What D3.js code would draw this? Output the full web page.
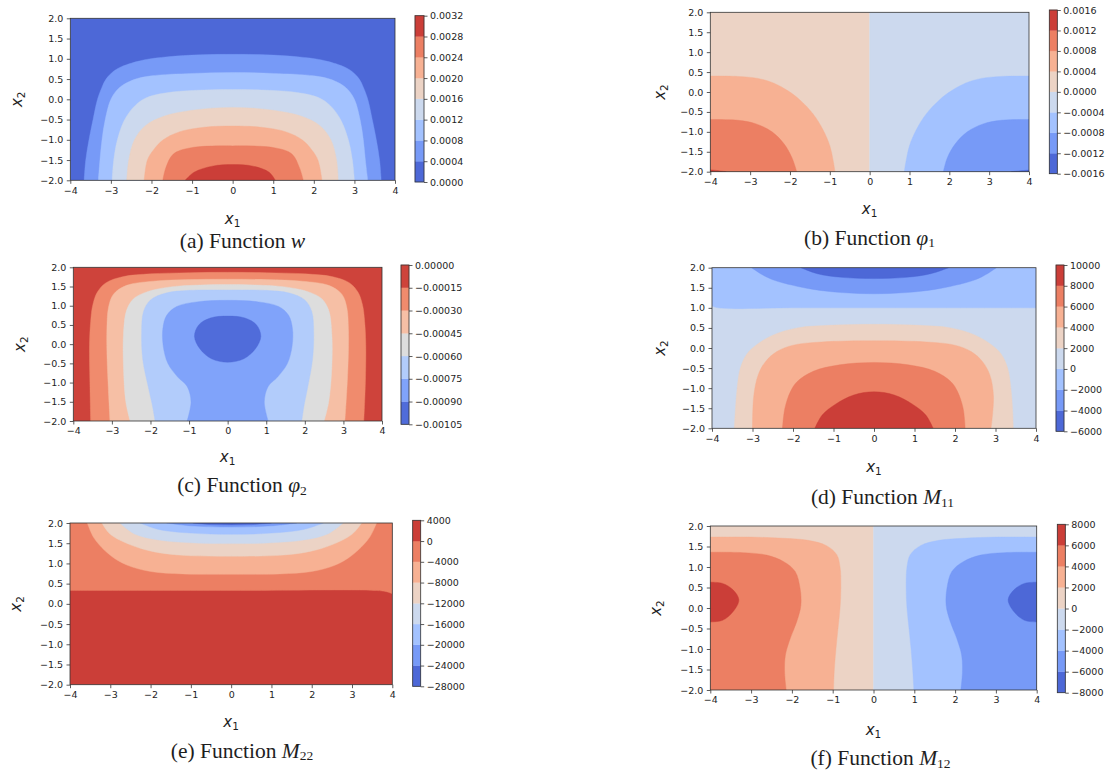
<!DOCTYPE html>
<html>
<head>
<meta charset="utf-8">
<script src="https://cdn.jsdelivr.net/npm/d3@7"></script>
<style>
  body { margin: 0; background: #fff; }
  svg text { fill: #1e1e1e; }
</style>
</head>
<body>
<div id="chart"></div>
<script>
// ---- values ----
// every field is drawn on x1 in [-4,4], x2 in [-2,2]
var xTicks = [-4, -3, -2, -1, 0, 1, 2, 3, 4];
var yTicks = [-2, -1.5, -1, -0.5, 0, 0.5, 1, 1.5, 2];

// contour levels (= colorbar tick labels) of each panel
var wLevels = [0, 0.0004, 0.0008, 0.0012, 0.0016, 0.0020, 0.0024, 0.0028, 0.0032];
var phi1Levels = [-0.0016, -0.0012, -0.0008, -0.0004, 0, 0.0004, 0.0008, 0.0012, 0.0016];
var phi2Levels = [-0.00105, -0.00090, -0.00075, -0.00060, -0.00045, -0.00030, -0.00015, 0];
var m11Levels = [-6000, -4000, -2000, 0, 2000, 4000, 6000, 8000, 10000];
var m22Levels = [-28000, -24000, -20000, -16000, -12000, -8000, -4000, 0, 4000];
var m12Levels = [-8000, -6000, -4000, -2000, 0, 2000, 4000, 6000, 8000];

// filled regions, painted in order: band index + boundary (x1, x2).
// an open boundary is closed through the listed plot corners, a loop is a closed curve.
var wShapes = [
  {band: 0, pts: [[-4, 2], [4, 2]], close: [[4, -2], [-4, -2]]},
  {band: 1, pts: [[-3.66, -2], [-3.62, -1.5], [-3.54, -1], [-3.44, -0.5], [-3.33, 0], [-3.22, 0.3], [-3.12, 0.5], [-2.95, 0.68], [-2.73, 0.81], [-2.2, 0.97], [-1.6, 1.05], [-0.8, 1.1], [0, 1.11], [0.8, 1.1], [1.6, 1.05], [2.2, 0.97], [2.73, 0.81], [2.95, 0.68], [3.12, 0.5], [3.22, 0.3], [3.33, 0], [3.44, -0.5], [3.54, -1], [3.62, -1.5], [3.66, -2]]},
  {band: 2, pts: [[-3.31, -2], [-3.27, -1.5], [-3.22, -1], [-3.14, -0.5], [-3.0, 0], [-2.8, 0.28], [-2.45, 0.48], [-2.0, 0.58], [-1.0, 0.64], [0, 0.66], [1.0, 0.64], [2.0, 0.58], [2.45, 0.48], [2.8, 0.28], [3.0, 0], [3.14, -0.5], [3.22, -1], [3.27, -1.5], [3.33, -2]]},
  {band: 3, pts: [[-2.97, -2], [-2.93, -1.5], [-2.84, -1], [-2.66, -0.5], [-2.4, -0.15], [-2.1, 0.05], [-1.5, 0.18], [-0.7, 0.23], [0, 0.24], [0.7, 0.23], [1.5, 0.18], [2.1, 0.05], [2.4, -0.15], [2.66, -0.5], [2.85, -1], [2.95, -1.5], [3.0, -2]]},
  {band: 4, pts: [[-2.61, -2], [-2.56, -1.5], [-2.42, -1], [-2.15, -0.65], [-1.7, -0.42], [-1.0, -0.27], [0, -0.2], [1.0, -0.27], [1.7, -0.42], [2.15, -0.65], [2.42, -1], [2.56, -1.5], [2.6, -2]]},
  {band: 5, pts: [[-2.18, -2], [-2.1, -1.5], [-1.95, -1.25], [-1.71, -1], [-1.3, -0.8], [-0.7, -0.69], [0, -0.66], [0.7, -0.69], [1.3, -0.8], [1.71, -1], [1.95, -1.25], [2.1, -1.5], [2.2, -2]]},
  {band: 6, pts: [[-1.72, -2], [-1.65, -1.7], [-1.46, -1.35], [-1.05, -1.2], [0, -1.15], [1.05, -1.2], [1.46, -1.35], [1.65, -1.7], [1.74, -2]]},
  {band: 7, pts: [[-1.17, -2], [-0.95, -1.8], [-0.5, -1.65], [0, -1.61], [0.5, -1.65], [0.9, -1.8], [1.05, -2]]}
];

var phi1Shapes = [
  {band: 4, pts: [[-4, 2], [0, 2]], close: [[0, -2], [-4, -2]]},
  {band: 3, pts: [[0, 2], [4, 2]], close: [[4, -2], [0, -2]]},
  {band: 5, pts: [[-4, 0.4], [-3.3, 0.39], [-2.8, 0.34], [-2.4, 0.22], [-2.05, 0.03], [-1.75, -0.2], [-1.42, -0.55], [-1.17, -0.95], [-1.0, -1.35], [-0.92, -1.7], [-0.87, -2]], close: [[-4, -2]]},
  {band: 6, pts: [[-4, -0.69], [-3.3, -0.71], [-2.85, -0.8], [-2.45, -1.0], [-2.15, -1.3], [-1.95, -1.65], [-1.83, -2]], close: [[-4, -2]]},
  {band: 7, pts: [[-4, -1.95], [-3.75, -1.98], [-3.6, -2]], close: [[-4, -2]]},
  {band: 2, pts: [[4, 0.4], [3.3, 0.39], [2.8, 0.34], [2.4, 0.22], [2.05, 0.03], [1.75, -0.2], [1.42, -0.55], [1.17, -0.95], [1.0, -1.35], [0.92, -1.7], [0.87, -2]], close: [[4, -2]]},
  {band: 1, pts: [[4, -0.69], [3.3, -0.71], [2.85, -0.8], [2.45, -1.0], [2.15, -1.3], [1.95, -1.65], [1.85, -2]], close: [[4, -2]]},
  {band: 0, pts: [[4, -1.96], [3.75, -1.98], [3.55, -2]], close: [[4, -2]]}
];

var phi2Shapes = [
  {band: 6, pts: [[-4, 2], [4, 2]], close: [[4, -2], [-4, -2]]},
  {band: 5, pts: [[-3.55, -2], [-3.57, -1], [-3.58, 0], [-3.55, 0.6], [-3.5, 1.0], [-3.38, 1.35], [-3.15, 1.6], [-2.7, 1.76], [-2.0, 1.83], [-1.0, 1.86], [0, 1.87], [1.0, 1.86], [2.0, 1.83], [2.7, 1.76], [3.15, 1.6], [3.38, 1.35], [3.5, 1.0], [3.55, 0.6], [3.58, 0], [3.57, -1], [3.53, -2]]},
  {band: 4, pts: [[-3.05, -2], [-3.1, -1], [-3.13, -0.2], [-3.13, 0.4], [-3.09, 0.95], [-2.96, 1.3], [-2.62, 1.53], [-1.93, 1.64], [-1.0, 1.68], [0, 1.69], [1.0, 1.68], [1.93, 1.64], [2.62, 1.53], [2.96, 1.3], [3.09, 0.95], [3.13, 0.4], [3.13, -0.2], [3.1, -1], [3.04, -2]]},
  {band: 3, pts: [[-2.53, -2], [-2.64, -1.5], [-2.7, -0.6], [-2.7, 0.27], [-2.62, 0.88], [-2.44, 1.18], [-2.1, 1.36], [-1.49, 1.49], [-0.7, 1.54], [0, 1.55], [0.7, 1.54], [1.49, 1.49], [2.1, 1.36], [2.44, 1.18], [2.62, 0.88], [2.7, 0.27], [2.7, -0.6], [2.62, -1.5], [2.5, -2]]},
  {band: 2, pts: [[-1.88, -2], [-1.95, -1.6], [-2.05, -1.15], [-2.2, -0.4], [-2.23, 0.3], [-2.18, 0.85], [-2.0, 1.15], [-1.6, 1.33], [-1.0, 1.4], [0, 1.41], [1.0, 1.4], [1.6, 1.33], [2.0, 1.15], [2.18, 0.85], [2.23, 0.3], [2.2, -0.4], [2.07, -1.15], [1.98, -1.6], [1.92, -2]]},
  {band: 1, pts: [[-1.05, -2], [-0.95, -1.5], [-1.05, -1.1], [-1.3, -0.85], [-1.55, -0.5], [-1.67, -0.05], [-1.68, 0.4], [-1.58, 0.75], [-1.32, 0.98], [-0.8, 1.1], [0, 1.14], [0.8, 1.1], [1.32, 0.98], [1.58, 0.75], [1.68, 0.4], [1.67, -0.05], [1.55, -0.5], [1.3, -0.85], [1.05, -1.1], [0.95, -1.5], [1.05, -2]]},
  {band: 0, loop: true, pts: [[-0.86, 0.2], [-0.75, 0.5], [-0.45, 0.68], [0, 0.73], [0.45, 0.68], [0.75, 0.5], [0.86, 0.2], [0.72, -0.12], [0.42, -0.38], [0, -0.47], [-0.42, -0.38], [-0.72, -0.12]]}
];

var m11Shapes = [
  {band: 3, pts: [[-4, 2], [4, 2]], close: [[4, -2], [-4, -2]]},
  {band: 2, pts: [[-4, 1.05], [-3.85, 1.0], [-2, 1.0], [2, 1.0], [3.9, 1.0], [4, 1.0]], close: [[4, 2], [-4, 2]]},
  {band: 1, pts: [[-3.02, 2], [-2.8, 1.85], [-2.5, 1.7], [-2.0, 1.56], [-1.5, 1.46], [-0.8, 1.38], [0, 1.35], [0.8, 1.38], [1.5, 1.46], [2.0, 1.56], [2.5, 1.7], [2.8, 1.85], [3.02, 2]]},
  {band: 0, pts: [[-1.8, 2], [-1.4, 1.85], [-0.8, 1.76], [0, 1.73], [0.8, 1.76], [1.4, 1.85], [1.84, 2]]},
  {band: 4, pts: [[-3.45, -2], [-3.42, -1.5], [-3.38, -1], [-3.3, -0.5], [-3.14, -0.15], [-2.9, 0.08], [-2.5, 0.32], [-1.9, 0.5], [-1.0, 0.57], [0, 0.59], [1.0, 0.57], [1.9, 0.5], [2.5, 0.32], [2.9, 0.08], [3.14, -0.15], [3.3, -0.5], [3.38, -1], [3.42, -1.5], [3.44, -2]]},
  {band: 5, pts: [[-3.0, -2], [-2.97, -1.2], [-2.86, -0.67], [-2.68, -0.34], [-2.4, -0.09], [-2.0, 0.07], [-1.3, 0.15], [0, 0.18], [1.3, 0.15], [2.0, 0.07], [2.4, -0.09], [2.68, -0.34], [2.86, -0.67], [2.95, -1.2], [2.89, -2]]},
  {band: 6, pts: [[-2.26, -2], [-2.2, -1.5], [-2.06, -1.08], [-1.9, -0.84], [-1.5, -0.58], [-0.85, -0.42], [0, -0.36], [0.85, -0.42], [1.5, -0.58], [1.9, -0.84], [2.06, -1.08], [2.2, -1.5], [2.25, -2]]},
  {band: 7, pts: [[-1.46, -2], [-1.28, -1.67], [-0.95, -1.4], [-0.5, -1.17], [0, -1.09], [0.5, -1.17], [0.95, -1.4], [1.28, -1.67], [1.46, -2]]}
];

var m22Shapes = [
  {band: 7, pts: [[-4, 2], [4, 2]], close: [[4, -2], [-4, -2]]},
  {band: 6, pts: [[-4, 0.33], [0, 0.33], [3.6, 0.33], [3.85, 0.3], [4, 0.25]], close: [[4, 2], [-4, 2]]},
  {band: 5, pts: [[-3.57, 2], [-3.4, 1.62], [-3.0, 1.2], [-2.59, 0.96], [-2.0, 0.8], [-1.2, 0.74], [0, 0.73], [1.2, 0.74], [2.0, 0.8], [2.59, 0.96], [3.0, 1.2], [3.42, 1.62], [3.61, 2]]},
  {band: 4, pts: [[-3.21, 2], [-3.0, 1.72], [-2.5, 1.46], [-1.93, 1.29], [-1.2, 1.2], [0, 1.18], [1.2, 1.2], [1.93, 1.29], [2.5, 1.46], [3.0, 1.72], [3.24, 2]]},
  {band: 3, pts: [[-2.76, 2], [-2.4, 1.73], [-1.8, 1.58], [-1.0, 1.51], [0, 1.49], [1.0, 1.51], [1.8, 1.58], [2.4, 1.73], [2.78, 2]]},
  {band: 2, pts: [[-2.26, 2], [-1.8, 1.84], [-1.0, 1.75], [0, 1.72], [1.0, 1.75], [1.8, 1.84], [2.29, 2]]},
  {band: 1, pts: [[-1.6, 2], [-1.0, 1.93], [0, 1.9], [1.0, 1.93], [1.63, 2]]},
  {band: 0, pts: [[-0.95, 2], [-0.5, 1.96], [0, 1.95], [0.5, 1.96], [1.0, 2]]}
];

var m12Shapes = [
  {band: 4, pts: [[-4, 2], [0, 2]], close: [[0, -2], [-4, -2]]},
  {band: 3, pts: [[0, 2], [4, 2]], close: [[4, -2], [0, -2]]},
  {band: 5, pts: [[-4, 1.73], [-3, 1.73], [-2.2, 1.7], [-1.6, 1.65], [-1.15, 1.52], [-0.9, 1.3], [-0.82, 1.0], [-0.8, 0.5], [-0.82, 0], [-0.87, -0.5], [-0.92, -1.0], [-0.96, -1.5], [-0.98, -2]], close: [[-4, -2]]},
  {band: 6, pts: [[-4, 1.36], [-3.2, 1.35], [-2.62, 1.29], [-2.2, 1.13], [-1.92, 0.89], [-1.8, 0.48], [-1.78, 0.07], [-1.88, -0.33], [-2.04, -0.74], [-2.16, -1.15], [-2.18, -1.55], [-2.14, -2]], close: [[-4, -2]]},
  {band: 7, pts: [[-4, 0.63], [-3.7, 0.6], [-3.45, 0.45], [-3.3, 0.2], [-3.45, -0.1], [-3.7, -0.3], [-4, -0.34]]},
  {band: 2, pts: [[4, 1.73], [3, 1.73], [2.2, 1.7], [1.6, 1.65], [1.15, 1.52], [0.9, 1.3], [0.82, 1.0], [0.8, 0.5], [0.82, 0], [0.87, -0.5], [0.92, -1.0], [0.96, -1.5], [0.99, -2]], close: [[4, -2]]},
  {band: 1, pts: [[4, 1.36], [3.2, 1.35], [2.62, 1.29], [2.2, 1.13], [1.92, 0.89], [1.8, 0.48], [1.78, 0.07], [1.88, -0.33], [2.04, -0.74], [2.16, -1.15], [2.18, -1.55], [2.14, -2]], close: [[4, -2]]},
  {band: 0, pts: [[4, 0.63], [3.7, 0.6], [3.45, 0.45], [3.3, 0.2], [3.45, -0.1], [3.7, -0.3], [4, -0.34]]}
];

// matplotlib "coolwarm" (Moreland), 33 stops
var coolwarm = d3.piecewise(d3.interpolateRgb, [
  "#3b4cc0", "#445acc", "#4d68d7", "#5775e1", "#6282ea", "#6c8ef1", "#779af7", "#82a5fb",
  "#8db0fe", "#98b9ff", "#a3c2ff", "#aec9fd", "#b8d0f9", "#c2d5f4", "#ccd9ee", "#d5dbe6",
  "#dddddd", "#e5d8d1", "#ecd3c5", "#f1ccb8", "#f5c4ac", "#f7bb9f", "#f7b193", "#f7a686",
  "#f49a7b", "#f18d6f", "#ec7f63", "#e57058", "#de604d", "#d55042", "#cb3e38", "#c0282f", "#b40426"
]);

// ---- layout of the six panels (pixels) ----
var panels = [
  {levels: wLevels, shapes: wShapes, fmt: ".4f",
   box: [70.3, 395, 18.3, 180.3], cb: [415, 424, 15.7, 182], xlabY: 223.5, ylabX: 22,
   cap: [242.5, 247.5], caption: [["(a) Function ", ""], ["w", "it"]]},
  {levels: phi1Levels, shapes: phi1Shapes, fmt: ".4f",
   box: [710.3, 1029, 12.3, 171.7], cb: [1049.3, 1057.3, 10, 173.7], xlabY: 213.5, ylabX: 665,
   cap: [869.5, 244.5], caption: [["(b) Function ", ""], ["φ", "it"], ["1", "sub"]]},
  {levels: phi2Levels, shapes: phi2Shapes, fmt: ".5f",
   box: [73.3, 382, 267.3, 421], cb: [401, 409, 265, 424.3], xlabY: 462, ylabX: 25,
   cap: [242, 492], caption: [["(c) Function ", ""], ["φ", "it"], ["2", "sub"]]},
  {levels: m11Levels, shapes: m11Shapes, fmt: "d",
   box: [712, 1036, 267.7, 428.3], cb: [1056, 1064, 265, 431.3], xlabY: 471.7, ylabX: 665,
   cap: [882.5, 504], caption: [["(d) Function ", ""], ["M", "it"], ["11", "sub"]]},
  {levels: m22Levels, shapes: m22Shapes, fmt: "d",
   box: [70, 392.3, 523, 684.7], cb: [412.7, 420.7, 520.3, 686.3], xlabY: 727, ylabX: 21,
   cap: [242, 757.5], caption: [["(e) Function ", ""], ["M", "it"], ["22", "sub"]]},
  {levels: m12Levels, shapes: m12Shapes, fmt: "d",
   box: [710.3, 1036.7, 526, 690], cb: [1057.3, 1065.3, 524.3, 692.7], xlabY: 734.5, ylabX: 661,
   cap: [880.5, 765], caption: [["(f) Function ", ""], ["M", "it"], ["12", "sub"]]}
];

var svg = d3.select("#chart").append("svg")
    .attr("width", 1111)
    .attr("height", 771);

var tickFont = "'DejaVu Sans', sans-serif";

function styleAxis(ax) {
  ax.attr("font-family", tickFont).attr("font-size", 9.5);
  ax.selectAll(".tick line").attr("stroke", "#333").attr("stroke-width", 0.8);
  ax.selectAll(".tick text").attr("fill", "#1e1e1e");
}

panels.forEach(function(p, k) {
  var nb = p.levels.length - 1;
  var color = function(b) { return coolwarm((b + 0.5) / nb); };

  var x = d3.scaleLinear().domain([-4, 4]).range([p.box[0], p.box[1]]);
  var y = d3.scaleLinear().domain([-2, 2]).range([p.box[3], p.box[2]]);
  var line = d3.line().x(function(d) { return x(d[0]); }).y(function(d) { return y(d[1]); });

  svg.append("clipPath").attr("id", "clip" + k)
    .append("rect")
      .attr("x", x(-4)).attr("y", y(2))
      .attr("width", x(4) - x(-4)).attr("height", y(-2) - y(2));

  /** filled contour bands, painted from the outside in */
  svg.append("g")
      .attr("clip-path", "url(#clip" + k + ")")
    .selectAll("path")
    .data(p.shapes)
    .join("path")
      .attr("d", function(s) {
        if (s.loop) return line.curve(d3.curveCatmullRomClosed)(s.pts);
        var d = line.curve(d3.curveCatmullRom)(s.pts);
        (s.close || []).forEach(function(c) { d += "L" + x(c[0]) + "," + y(c[1]); });
        return d + "Z";
      })
      .attr("fill", function(s) { return color(s.band); })
      .attr("stroke", function(s) { return color(s.band); })
      .attr("stroke-width", 0.4);

  /** axes */
  var ax = svg.append("g")
      .attr("transform", "translate(0," + p.box[3] + ")")
      .call(d3.axisBottom(x).tickValues(xTicks).tickFormat(d3.format("d"))
        .tickSize(3.5).tickPadding(3).tickSizeOuter(0));
  ax.select(".domain").remove();
  styleAxis(ax);

  var ay = svg.append("g")
      .attr("transform", "translate(" + p.box[0] + ",0)")
      .call(d3.axisLeft(y).tickValues(yTicks).tickFormat(d3.format(".1f"))
        .tickSize(3.5).tickPadding(3.5).tickSizeOuter(0));
  ay.select(".domain").remove();
  styleAxis(ay);

  svg.append("rect")
      .attr("x", x(-4)).attr("y", y(2))
      .attr("width", x(4) - x(-4)).attr("height", y(-2) - y(2))
      .attr("fill", "none").attr("stroke", "#333").attr("stroke-width", 0.8);

  /** axis labels x1 / x2 */
  var xl = svg.append("text")
      .attr("x", (p.box[0] + p.box[1]) / 2)
      .attr("y", p.xlabY)
      .attr("text-anchor", "middle")
      .attr("font-family", tickFont)
      .attr("font-size", 15);
  xl.append("tspan").attr("font-style", "italic").text("x");
  xl.append("tspan").attr("font-size", 10.5).attr("dy", 3).text("1");

  var yl = svg.append("text")
      .attr("transform", "translate(" + p.ylabX + "," + ((p.box[2] + p.box[3]) / 2) + ") rotate(-90)")
      .attr("text-anchor", "middle")
      .attr("font-family", tickFont)
      .attr("font-size", 15);
  yl.append("tspan").attr("font-style", "italic").text("x");
  yl.append("tspan").attr("font-size", 10.5).attr("dy", 3).text("2");

  /** colorbar */
  var c = d3.scaleLinear().domain([p.levels[0], p.levels[nb]]).range([p.cb[3], p.cb[2]]);
  svg.append("g")
    .selectAll("rect")
    .data(d3.range(nb))
    .join("rect")
      .attr("x", p.cb[0])
      .attr("y", function(i) { return c(p.levels[i + 1]); })
      .attr("width", p.cb[1] - p.cb[0])
      .attr("height", function(i) { return c(p.levels[i]) - c(p.levels[i + 1]); })
      .attr("fill", color)
      .attr("stroke", color)
      .attr("stroke-width", 0.3);
  svg.append("rect")
      .attr("x", p.cb[0]).attr("y", p.cb[2])
      .attr("width", p.cb[1] - p.cb[0]).attr("height", p.cb[3] - p.cb[2])
      .attr("fill", "none").attr("stroke", "#333").attr("stroke-width", 0.8);
  var ac = svg.append("g")
      .attr("transform", "translate(" + p.cb[1] + ",0)")
      .call(d3.axisRight(c).tickValues(p.levels).tickFormat(d3.format(p.fmt))
        .tickSize(3.5).tickPadding(2.5).tickSizeOuter(0));
  ac.select(".domain").remove();
  styleAxis(ac);

  /** caption under the panel */
  var cap = svg.append("text")
      .attr("x", p.cap[0])
      .attr("y", p.cap[1])
      .attr("text-anchor", "middle")
      .attr("font-family", "'Liberation Serif', 'Times New Roman', serif")
      .attr("font-size", 21.5);
  p.caption.forEach(function(part) {
    var t = cap.append("tspan").text(part[0]);
    if (part[1] === "it") t.attr("font-style", "italic");
    if (part[1] === "sub") t.attr("font-size", 13.5).attr("dy", 2.5);
  });
});
</script>
</body>
</html>
